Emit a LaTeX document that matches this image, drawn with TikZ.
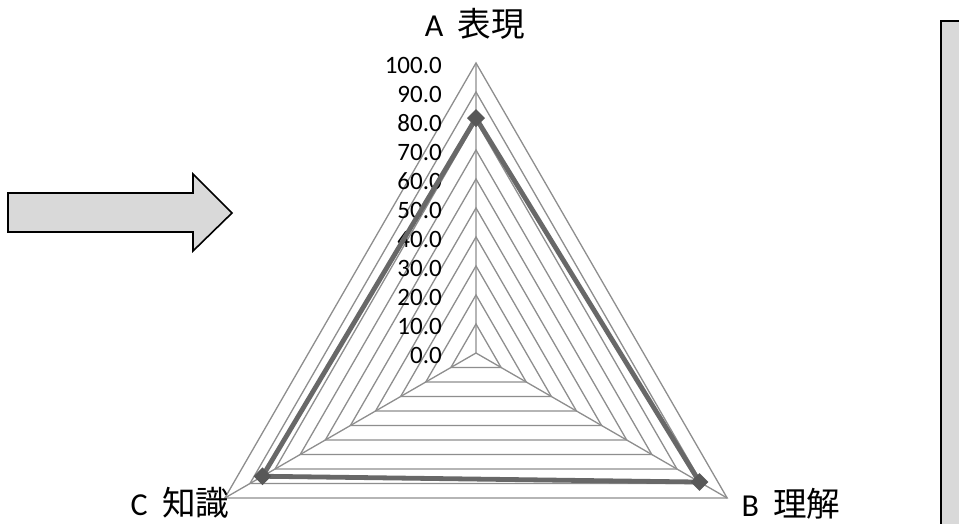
\documentclass[tikz,border=0pt]{standalone}
\usepackage{fontspec}
\setmainfont{Carlito}
\newfontfamily\cjk[Scale=1.05]{Noto Sans CJK JP}
\usetikzlibrary{shapes.geometric}
\definecolor{gridgray}{HTML}{8E8E8E}
\definecolor{datagray}{HTML}{686868}
\definecolor{boxgray}{HTML}{D9D9D9}
\tikzset{
  gridline/.style={draw=gridgray, line width=1.3pt},
  dataline/.style={draw=datagray, line width=4.8pt, line join=miter},
  marker/.style={diamond, fill=datagray!85!black, inner sep=0pt, minimum size=18pt},
  ticklabel/.style={anchor=east, inner sep=0pt, font=\fontsize{25}{27}\selectfont},
  axislabel/.style={inner sep=0pt, font=\fontsize{32}{34}\selectfont},
  greybox/.style={fill=boxgray, draw=black, line width=1.6pt}
}
\newcommand{\axisname}[2]{#1\hspace{0.45em}{\cjk #2}}
\begin{document}
\begin{tikzpicture}[x=1pt,y=1pt]
\clip (0,0) rectangle (959,523);
\fill[white] (0,0) rectangle (959,523);
% arrow on the left
\draw[greybox, line join=miter] (8,330) -- (193,330) -- (193,349) -- (232,310)
  -- (193,272) -- (193,291) -- (8,291) -- cycle;
% box on the right
\draw[greybox] (941,-10) rectangle (975,502);
% radar chart
\begin{scope}[shift={(476,170)}]
  \foreach \i in {1,...,10}
    \draw[gridline] (90:\i*29) -- (-30:\i*29) -- (210:\i*29) -- cycle;
  \coordinate (o) at (0,0);
  \coordinate (va) at (90:290);
  \coordinate (vb) at (-30:290);
  \coordinate (vc) at (210:290);
  \draw[gridline] (o) -- (va) (o) -- (vb) (o) -- (vc);
  \foreach \i in {0,...,10}{
    \pgfmathtruncatemacro{\v}{\i*10}
    \node[ticklabel] (t\i) at (-34,\i*29-2) {\v.0};
  }
  % data
  \coordinate (da) at (90:81*2.9);
  \coordinate (db) at (-30:89*2.9);
  \coordinate (dc) at (210:85*2.9);
  \draw[dataline] (da) -- (db) -- (dc) -- cycle;
  \node[marker] (ma) at (da) {};
  \node[marker] (mb) at (db) {};
  \node[marker] (mc) at (dc) {};
\end{scope}
\node[axislabel] (la) at (475,499) {\axisname{A}{表現}};
\node[axislabel] (lb) at (791,19) {\axisname{B}{理解}};
\node[axislabel] (lc) at (180,20) {\axisname{C}{知識}};
\end{tikzpicture}
\end{document}
